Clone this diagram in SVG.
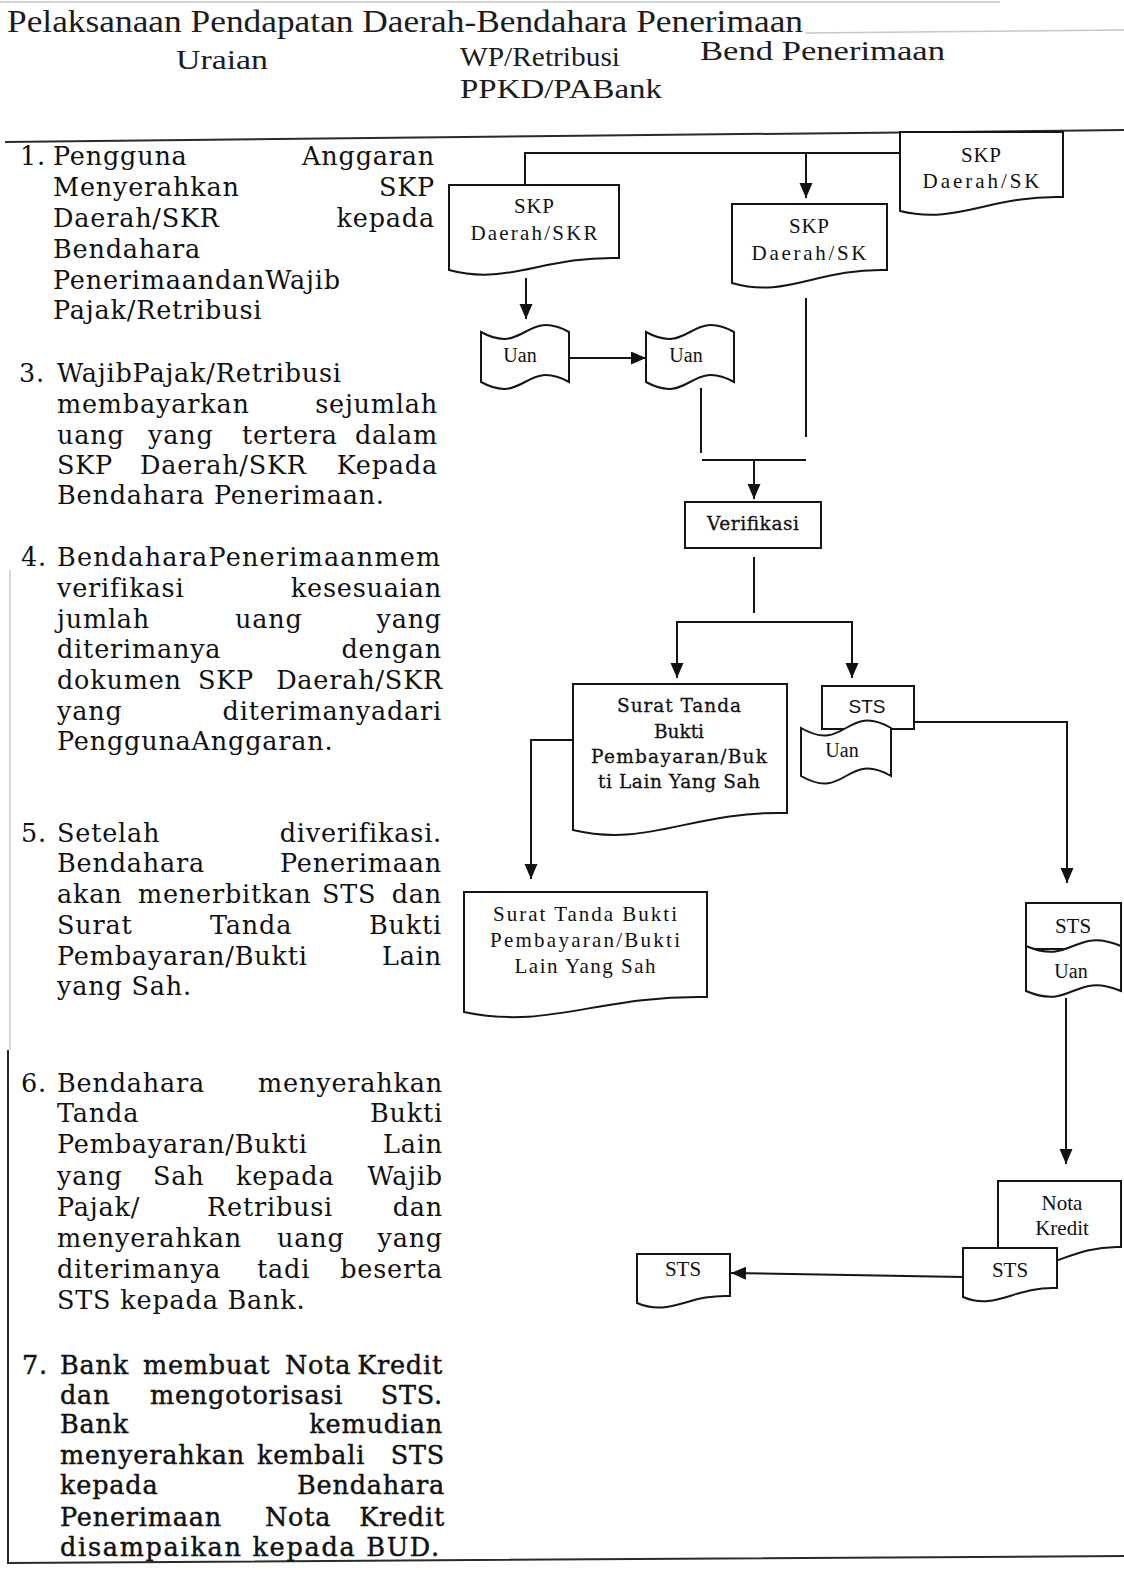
<svg xmlns="http://www.w3.org/2000/svg" width="1124" height="1570" viewBox="0 0 1124 1570">
<defs>
  <marker id="ah" markerUnits="userSpaceOnUse" markerWidth="16" markerHeight="14" refX="15" refY="6.5" orient="auto">
    <path d="M0,0 L15,6.5 L0,13 Z" fill="#111"/>
  </marker>
</defs>
<style>
  .shape{fill:#fff;stroke:#151515;stroke-width:2}
  .wire{fill:none;stroke:#151515;stroke-width:2}
  .rule{fill:none;stroke:#2a2a2a;stroke-width:2}
  .faint{fill:none;stroke:#c8c8c8;stroke-width:1.5}
  .hd{font-family:"Liberation Serif",serif;font-size:32px;fill:#1c1c1c}
  .hs{font-family:"Liberation Serif",serif;font-size:27px;fill:#1c1c1c}
  .tx{font-family:"DejaVu Serif",serif;font-size:25.5px;letter-spacing:0.8px;fill:#111}
  .b{stroke:#111;stroke-width:0.45}
  .e{text-anchor:end}
  .lb{font-family:"Liberation Serif",serif;font-size:21px;fill:#111;text-anchor:middle}
  .lbu{font-family:"Liberation Serif",serif;font-size:20px;fill:#111;text-anchor:middle}
  .lbb{font-family:"DejaVu Serif",serif;font-size:18.5px;fill:#111;text-anchor:middle;stroke:#111;stroke-width:0.3}
  .lbs{font-family:"Liberation Sans",sans-serif;font-size:19px;fill:#111;text-anchor:middle}
</style>
<rect width="1124" height="1570" fill="#fff"/>

<!-- page header -->
<g id="header">
  <line class="faint" x1="0" y1="2" x2="1000" y2="2"/>
  <line class="faint" x1="805" y1="33" x2="1124" y2="30"/>
  <text class="hd" x="7" y="32" textLength="796" lengthAdjust="spacingAndGlyphs">Pelaksanaan Pendapatan Daerah-Bendahara Penerimaan</text>
  <text class="hs" x="176" y="69" textLength="92" lengthAdjust="spacingAndGlyphs">Uraian</text>
  <text class="hs" x="460" y="66" textLength="160" lengthAdjust="spacingAndGlyphs">WP/Retribusi</text>
  <text class="hs" x="700" y="60" textLength="245" lengthAdjust="spacingAndGlyphs">Bend Penerimaan</text>
  <text class="hs" x="460" y="98" textLength="202" lengthAdjust="spacingAndGlyphs">PPKD/PABank</text>
  <line class="rule" x1="5" y1="142" x2="1124" y2="130"/>
  <line class="faint" x1="10" y1="570" x2="10" y2="1050"/>
  <polyline class="rule" points="8,1050 8,1563 1124,1556"/>
</g>

<!-- description column -->
<g id="steps" class="tx">
  <g id="step1">
    <text x="20" y="165">1.</text>
    <text x="53" y="165">Pengguna</text><text class="e" x="435" y="165">Anggaran</text>
    <text x="53" y="196">Menyerahkan</text><text class="e" x="435" y="196">SKP</text>
    <text x="53" y="227">Daerah/SKR</text><text class="e" x="435" y="227">kepada</text>
    <text x="53" y="258">Bendahara</text>
    <text x="53" y="289">PenerimaandanWajib</text>
    <text x="53" y="319">Pajak/Retribusi</text>
  </g>
  <g id="step3">
    <text x="19" y="382">3.</text>
    <text x="57" y="382">WajibPajak/Retribusi</text>
    <text x="57" y="413">membayarkan</text><text class="e" x="438" y="413">sejumlah</text>
    <text x="57" y="444">uang</text><text x="148" y="444">yang</text><text x="242" y="444">tertera</text><text class="e" x="438" y="444">dalam</text>
    <text x="57" y="474">SKP</text><text x="140" y="474">Daerah/SKR</text><text class="e" x="438" y="474">Kepada</text>
    <text x="57" y="504">Bendahara Penerimaan.</text>
  </g>
  <g id="step4">
    <text x="21" y="566">4.</text>
    <text x="57" y="566" textLength="384" lengthAdjust="spacing">BendaharaPenerimaanmem</text>
    <text x="57" y="597">verifikasi</text><text class="e" x="442" y="597">kesesuaian</text>
    <text x="57" y="628">jumlah</text><text x="235" y="628">uang</text><text class="e" x="442" y="628">yang</text>
    <text x="57" y="658">diterimanya</text><text class="e" x="442" y="658">dengan</text>
    <text x="57" y="689">dokumen</text><text x="198" y="689">SKP</text><text class="e" x="443" y="689">Daerah/SKR</text>
    <text x="57" y="720">yang</text><text class="e" x="442" y="720">diterimanyadari</text>
    <text x="57" y="750">PenggunaAnggaran.</text>
  </g>
  <g id="step5">
    <text x="21" y="842">5.</text>
    <text x="57" y="842">Setelah</text><text class="e" x="442" y="842">diverifikasi.</text>
    <text x="57" y="872">Bendahara</text><text class="e" x="442" y="872">Penerimaan</text>
    <text x="57" y="903">akan</text><text x="138" y="903">menerbitkan</text><text x="322" y="903">STS</text><text class="e" x="442" y="903">dan</text>
    <text x="57" y="934">Surat</text><text x="210" y="934">Tanda</text><text class="e" x="442" y="934">Bukti</text>
    <text x="57" y="965">Pembayaran/Bukti</text><text class="e" x="442" y="965">Lain</text>
    <text x="57" y="995">yang Sah.</text>
  </g>
  <g id="step6">
    <text x="21" y="1092">6.</text>
    <text x="57" y="1092">Bendahara</text><text class="e" x="443" y="1092">menyerahkan</text>
    <text x="57" y="1122">Tanda</text><text class="e" x="443" y="1122">Bukti</text>
    <text x="57" y="1153">Pembayaran/Bukti</text><text class="e" x="443" y="1153">Lain</text>
    <text x="57" y="1185">yang</text><text x="153" y="1185">Sah</text><text x="236" y="1185">kepada</text><text class="e" x="443" y="1185">Wajib</text>
    <text x="57" y="1216">Pajak/</text><text x="207" y="1216">Retribusi</text><text class="e" x="443" y="1216">dan</text>
    <text x="57" y="1247">menyerahkan</text><text x="277" y="1247">uang</text><text class="e" x="443" y="1247">yang</text>
    <text x="57" y="1278">diterimanya</text><text x="257" y="1278">tadi</text><text class="e" x="443" y="1278">beserta</text>
    <text x="57" y="1309">STS kepada Bank.</text>
  </g>
  <g id="step7" class="b">
    <text x="22" y="1374">7.</text>
    <text x="60" y="1374">Bank</text><text x="143" y="1374">membuat</text><text x="285" y="1374">Nota</text><text class="e" x="443" y="1374">Kredit</text>
    <text x="60" y="1404">dan</text><text x="150" y="1404">mengotorisasi</text><text class="e" x="443" y="1404">STS.</text>
    <text x="60" y="1433">Bank</text><text class="e" x="443" y="1433">kemudian</text>
    <text x="60" y="1464">menyerahkan</text><text x="257" y="1464">kembali</text><text class="e" x="445" y="1464">STS</text>
    <text x="60" y="1494">kepada</text><text class="e" x="445" y="1494">Bendahara</text>
    <text x="60" y="1526">Penerimaan</text><text x="265" y="1526">Nota</text><text class="e" x="445" y="1526">Kredit</text>
    <text x="60" y="1556" textLength="380" lengthAdjust="spacing">disampaikan kepada BUD.</text>
  </g>
</g>

<!-- connectors -->
<g id="connectors">
  <polyline class="wire" points="900,153 525,153 525,185"/>
  <line class="wire" x1="806" y1="153" x2="806" y2="198" marker-end="url(#ah)"/>
  <line class="wire" x1="526" y1="278" x2="526" y2="319" marker-end="url(#ah)"/>
  <line class="wire" x1="569" y1="358" x2="646" y2="358" marker-end="url(#ah)"/>
  <line class="wire" x1="701" y1="388" x2="701" y2="453"/>
  <line class="wire" x1="806" y1="298" x2="806" y2="437"/>
  <line class="wire" x1="702" y1="460" x2="806" y2="460"/>
  <line class="wire" x1="754" y1="460" x2="754" y2="499" marker-end="url(#ah)"/>
  <line class="wire" x1="754" y1="557" x2="754" y2="613"/>
  <polyline class="wire" points="677,622 852,622"/>
  <line class="wire" x1="677" y1="621" x2="677" y2="678" marker-end="url(#ah)"/>
  <line class="wire" x1="852" y1="621" x2="852" y2="678" marker-end="url(#ah)"/>
  <polyline class="wire" points="914,722 1067,722 1067,883" marker-end="url(#ah)"/>
  <polyline class="wire" points="573,740 531,740 531,879" marker-end="url(#ah)"/>
  <line class="wire" x1="1066" y1="998" x2="1066" y2="1164" marker-end="url(#ah)"/>
  <line class="wire" x1="963" y1="1277" x2="731" y2="1273" marker-end="url(#ah)"/>
</g>

<!-- SKP Daerah/SK held by the collector -->
<g id="skp-source">
  <path class="shape" d="M900,132 H1063 V197 C990,195 957,225 900,211 Z"/>
  <text class="lb" x="981" y="162" textLength="40" lengthAdjust="spacing">SKP</text>
  <text class="lb" x="981" y="188" textLength="117" lengthAdjust="spacing">Daerah/SK</text>
</g>
<g id="skp-skr">
  <path class="shape" d="M449,185 H619 V258 C542,256 508,286 449,270 Z"/>
  <text class="lb" x="534" y="213" textLength="40" lengthAdjust="spacing">SKP</text>
  <text class="lb" x="534" y="240" textLength="127" lengthAdjust="spacing">Daerah/SKR</text>
</g>
<g id="skp-sk">
  <path class="shape" d="M732,204 H887 V270 C817,268 786,299 732,283 Z"/>
  <text class="lb" x="809" y="233" textLength="40" lengthAdjust="spacing">SKP</text>
  <text class="lb" x="809" y="260" textLength="115" lengthAdjust="spacing">Daerah/SK</text>
</g>
<g id="uang-wp">
  <path class="shape" d="M481,332 C525,356 525,308 569,332 V382 C525,358 525,406 481,382 Z"/>
  <text class="lbu" x="520" y="362">Uan</text>
</g>
<g id="uang-bend">
  <path class="shape" d="M646,332 C690,356 690,308 734,332 V382 C690,358 690,406 646,382 Z"/>
  <text class="lbu" x="686" y="362">Uan</text>
</g>
<g id="verifikasi">
  <rect class="shape" x="685" y="502" width="136" height="46"/>
  <text class="lbb" x="753" y="530" textLength="92" lengthAdjust="spacing">Verifikasi</text>
</g>
<g id="bukti-bayar">
  <path class="shape" d="M573,684 H787 V813 C691,811 648,848 573,830 Z"/>
  <text class="lbb" x="679" y="712" textLength="124" lengthAdjust="spacing">Surat Tanda</text>
  <text class="lbb" x="679" y="738">Bukti</text>
  <text class="lbb" x="679" y="763" textLength="176" lengthAdjust="spacing">Pembayaran/Buk</text>
  <text class="lbb" x="679" y="788" textLength="162" lengthAdjust="spacing">ti Lain Yang Sah</text>
</g>
<g id="sts-uang">
  <rect class="shape" x="822" y="686" width="92" height="43"/>
  <text class="lbs" x="867" y="713">STS</text>
  <path class="shape" d="M801,728 C846,754 846,702 891,728 V776 C846,750 846,802 801,776 Z"/>
  <text class="lbu" x="842" y="757">Uan</text>
</g>
<g id="bukti-wp">
  <path class="shape" d="M464,892 H707 V997 C598,995 549,1030 464,1012 Z"/>
  <text class="lb" x="585" y="921" textLength="184" lengthAdjust="spacing">Surat Tanda Bukti</text>
  <text class="lb" x="585" y="947" textLength="190" lengthAdjust="spacing">Pembayaran/Bukti</text>
  <text class="lb" x="585" y="973" textLength="141" lengthAdjust="spacing">Lain Yang Sah</text>
</g>
<g id="sts-uang-bank">
  <rect class="shape" x="1026" y="903" width="95" height="46"/>
  <text class="lb" x="1073" y="933">STS</text>
  <path class="shape" d="M1026,946 C1073,966 1073,926 1121,946 V991 C1073,971 1073,1011 1026,991 Z"/>
  <text class="lbu" x="1071" y="978">Uan</text>
</g>
<g id="nota-kredit">
  <path class="shape" d="M998,1181 H1121 V1247 C1066,1245 1041,1281 998,1265 Z"/>
  <text class="lb" x="1062" y="1210" font-size="18">Nota</text>
  <text class="lb" x="1062" y="1235" font-size="18">Kredit</text>
</g>
<g id="sts-bank">
  <path class="shape" d="M963,1248 H1057 V1288 C1015,1286 996,1311 963,1297 Z"/>
  <text class="lb" x="1010" y="1277">STS</text>
</g>
<g id="sts-bend">
  <path class="shape" d="M637,1254 H730 V1296 C688,1294 670,1317 637,1303 Z"/>
  <text class="lb" x="683" y="1276">STS</text>
</g>
</svg>
